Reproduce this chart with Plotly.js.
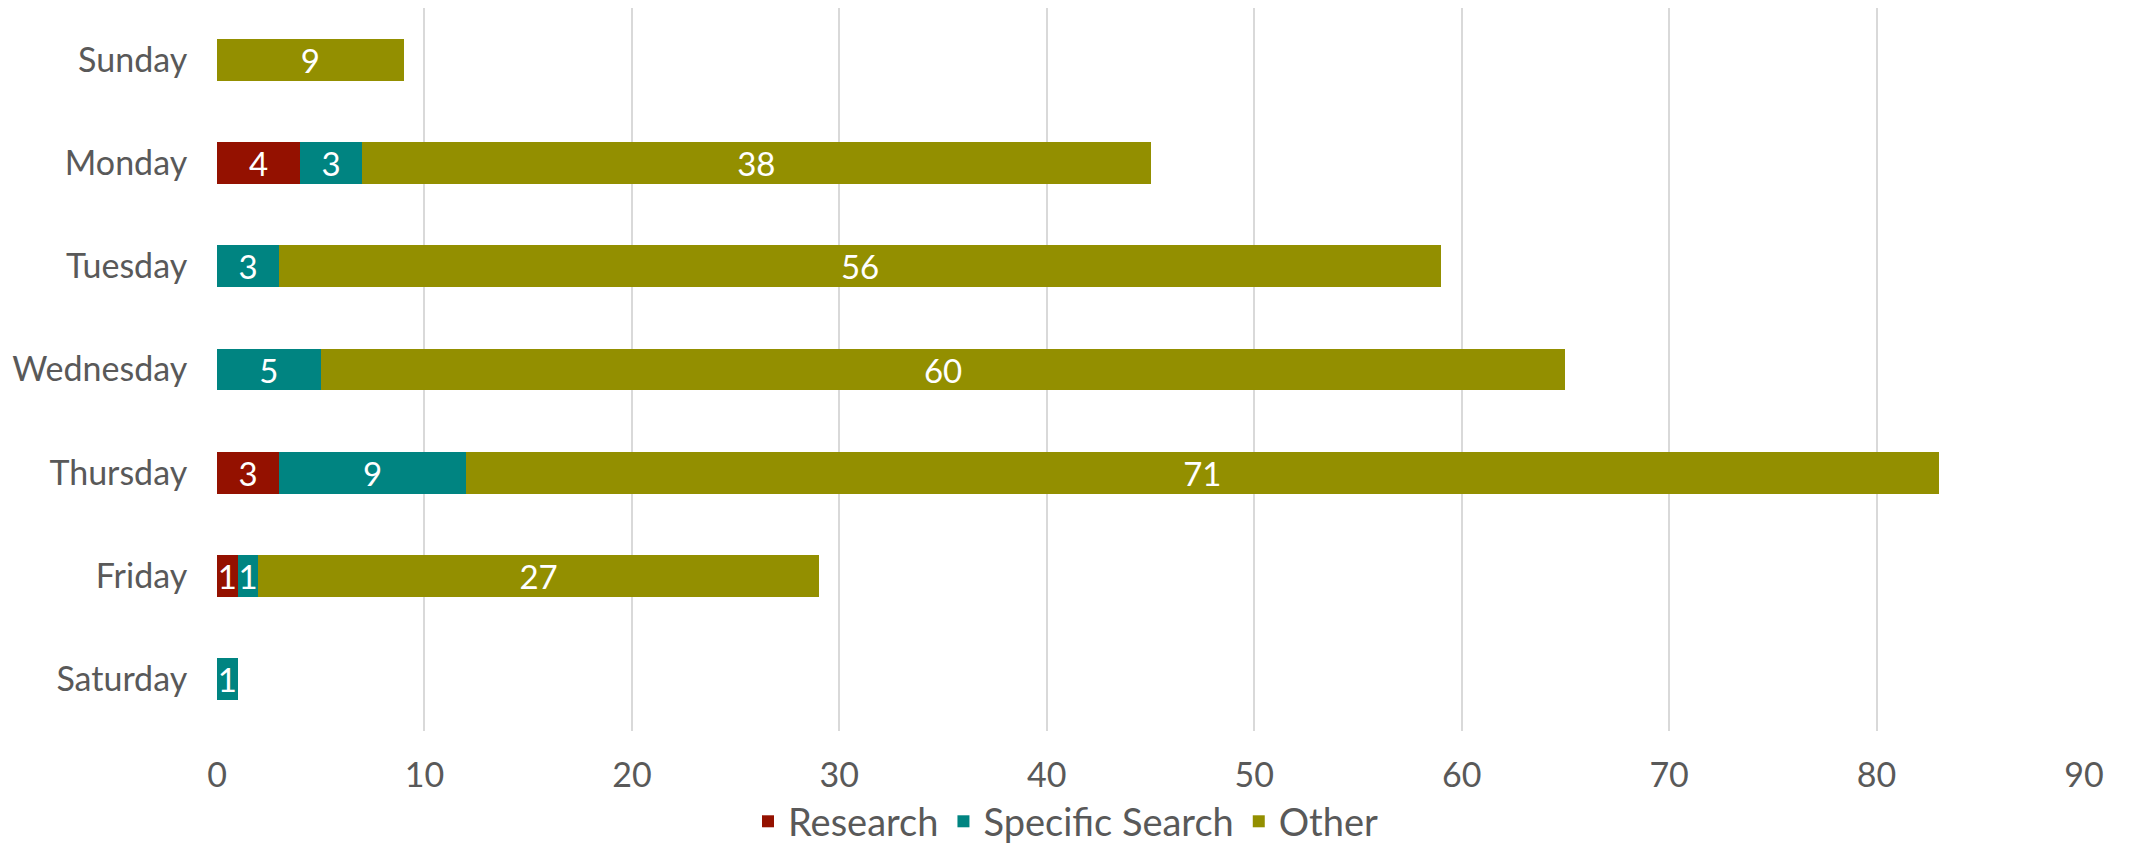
<!DOCTYPE html>
<html><head><meta charset="utf-8">
<script src="https://cdn.plot.ly/plotly-3.0.1.min.js"></script>
<style>html,body{margin:0;padding:0;background:#fff}#c{width:2131px;height:847px}</style>
</head><body><div id="c"></div>
<script>
const days = ["Sunday","Monday","Tuesday","Wednesday","Thursday","Friday","Saturday"];
const research = [null,4,null,null,3,1,null];
const specificSearch = [null,3,3,5,9,1,1];
const other = [9,38,56,60,71,27,null];
const xTicks = [0,10,20,30,40,50,60,70,80,90];

const font = "Lato, 'Open Sans', sans-serif";
function tr(name, vals, color){
  return {type:'bar', orientation:'h', name:name, y:days, x:vals,
    marker:{color:color}, width:0.405,
    texttemplate:'%{x}', textposition:'inside', insidetextanchor:'middle', textangle:0,
    textfont:{color:'#ffffff', size:33, family:font}, hoverinfo:'x+name'};
}
const data = [
  tr('Research', research, '#941100'),
  tr('Specific Search', specificSearch, '#008481'),
  tr('Other', other, '#938f00')
];
const layout = {
  width:2131, height:847, barmode:'stack',
  margin:{l:217, r:47, t:8, b:116},
  paper_bgcolor:'#fff', plot_bgcolor:'#fff',
  font:{family:font, color:'#595959', size:33},
  uniformtext:{minsize:33, mode:'show'},
  xaxis:{range:[0,90], tickvals:xTicks, showgrid:true, gridcolor:'#d9d9d9', gridwidth:2,
    zeroline:false, showline:false, ticks:'outside', ticklen:14, tickcolor:'rgba(0,0,0,0)',
    tickfont:{size:34}},
  yaxis:{categoryorder:'array', categoryarray:days, autorange:'reversed', showgrid:false,
    zeroline:false, showline:false, ticks:'outside', ticklen:22, tickcolor:'rgba(0,0,0,0)',
    tickfont:{size:34}},
  legend:{orientation:'h', xref:'container', yref:'container', x:0.5, xanchor:'center',
    y:0.03, yanchor:'middle', font:{size:38}, bgcolor:'rgba(0,0,0,0)', itemwidth:30, traceorder:'normal'},
  showlegend:true
};
Plotly.newPlot('c', data, layout, {displayModeBar:false, staticPlot:true});
</script></body></html>
